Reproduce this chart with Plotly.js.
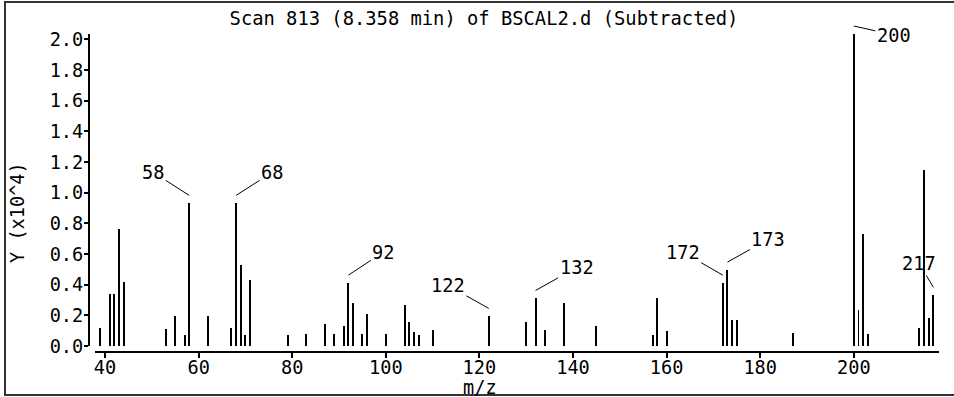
<!DOCTYPE html>
<html>
<head>
<meta charset="utf-8">
<script src="https://cdn.plot.ly/plotly-3.0.1.min.js"></script>
<style>html,body{margin:0;padding:0;background:#fff;}#chart{width:954px;height:397px;}</style>
</head>
<body>
<div id="chart"></div>
<script>
// m/z values and abundances (x10^4)
const mz = [39, 41, 42, 43, 44, 53, 55, 57, 58, 62, 67, 68, 69, 70, 71, 79, 83,
            87, 89, 91, 92, 93, 95, 96, 100, 104, 105, 106, 107, 110, 122, 130, 132, 134, 138, 145,
            157, 158, 160, 172, 173, 174, 175, 187, 200, 201, 202, 203, 214, 215, 216, 217];
const abundance = [0.12, 0.34, 0.34, 0.76, 0.42, 0.11, 0.195, 0.07, 0.93, 0.195, 0.12, 0.93, 0.53, 0.07, 0.43, 0.07, 0.08,
            0.143, 0.08, 0.13, 0.41, 0.28, 0.08, 0.21, 0.08, 0.27, 0.156, 0.093, 0.07, 0.106, 0.193, 0.156, 0.31, 0.106, 0.28, 0.13,
            0.07, 0.31, 0.095, 0.41, 0.495, 0.17, 0.17, 0.083, 2.035, 0.234, 0.733, 0.08, 0.12, 1.145, 0.18, 0.33];
// labelled peaks
const labelMz = [58, 68, 92, 122, 132, 172, 173, 200, 217];
const labelDx = [-36, 36, 35, -41, 41, -40, 41, 40, -14];
const labelDy = [-23, -23, -23, -23, -23, -23, -23, 9, -24];
const xTicks = [40, 60, 80, 100, 120, 140, 160, 180, 200];
const yTicks = [0, 0.2, 0.4, 0.6, 0.8, 1.0, 1.2, 1.4, 1.6, 1.8, 2.0];

const FONT = 'DejaVu Sans Mono, Liberation Mono, monospace';
const FS = 18.6;

const trace = {
  type: 'bar', x: mz, y: abundance, width: 0.42,
  marker: {color: '#000', line: {width: 0}},
  hoverinfo: 'x+y'
};

const annotations = labelMz.map((m, i) => ({
  x: m, y: abundance[mz.indexOf(m)], xref: 'x', yref: 'y',
  text: String(m), showarrow: true, arrowhead: 0, arrowwidth: 1, arrowcolor: '#000',
  ax: labelDx[i], ay: labelDy[i], yshift: 8, standoff: 0,
  font: {family: FONT, size: FS, color: '#000'}
}));
annotations.push({
  text: 'm/z', xref: 'paper', yref: 'paper', x: (480 - 89) / 850, y: (352 - 387) / 318,
  xanchor: 'center', yanchor: 'middle', showarrow: false,
  font: {family: FONT, size: FS, color: '#000'}
});
annotations.push({
  text: 'Y (x10^4)', xref: 'paper', yref: 'paper', x: (17 - 89) / 850, y: (352 - 213) / 318,
  xanchor: 'center', yanchor: 'middle', textangle: -90, showarrow: false,
  font: {family: FONT, size: FS, color: '#000'}
});

const layout = {
  width: 954, height: 397,
  margin: {l: 89, r: 15, t: 34, b: 45, pad: 0},
  paper_bgcolor: '#fff', plot_bgcolor: '#fff',
  showlegend: false,
  title: {
    text: 'Scan 813 (8.358 min) of BSCAL2.d (Subtracted)',
    xref: 'paper', x: (484 - 89) / 850, xanchor: 'center',
    yref: 'container', y: 1 - 18 / 397, yanchor: 'middle',
    font: {family: FONT, size: 18.8, color: '#000'}
  },
  xaxis: {
    range: [37.86, 218.2], domain: [6 / 850, 1], anchor: 'free', position: 0,
    tickvals: xTicks, ticktext: xTicks.map(String),
    ticks: 'outside', ticklen: 5, tickwidth: 2, tickcolor: '#000',
    ticklabelstandoff: -6,
    showline: true, linecolor: '#000', linewidth: 2,
    showgrid: false, zeroline: false,
    tickfont: {family: FONT, size: FS, color: '#000'}
  },
  yaxis: {
    range: [0, 2.035], domain: [6 / 318, 1], anchor: 'free', position: 0,
    tickvals: yTicks, ticktext: yTicks.map(v => v.toFixed(1)),
    ticks: 'outside', ticklen: 4, tickwidth: 2, tickcolor: '#000',
    ticklabelstandoff: -3,
    showline: true, linecolor: '#000', linewidth: 2,
    showgrid: false, zeroline: false,
    tickfont: {family: FONT, size: FS, color: '#000'}
  },
  shapes: [{
    type: 'rect', xref: 'paper', yref: 'paper',
    x0: (5 - 89) / 850, x1: (965 - 89) / 850,
    y0: (352 - 395) / 318, y1: (352 - 2) / 318,
    line: {color: '#333', width: 2}, layer: 'below'
  }],
  annotations: annotations,
  bargap: 0
};

Plotly.newPlot('chart', [trace], layout, {displayModeBar: false, staticPlot: true});
</script>
</body>
</html>
